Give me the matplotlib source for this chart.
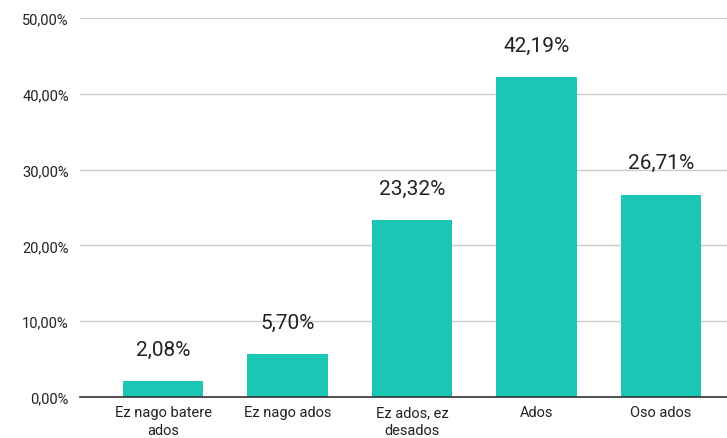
import matplotlib
matplotlib.use("Agg")
import matplotlib.pyplot as plt
from matplotlib.ticker import FuncFormatter
from matplotlib.patches import FancyBboxPatch

categories = ["Ez nago batere\nados", "Ez nago ados", "Ez ados, ez\ndesados", "Ados", "Oso ados"]
values = [2.08, 5.70, 23.32, 42.19, 26.71]
yticks = [0, 10, 20, 30, 40, 50]

plt.rcParams['font.family'] = ['Roboto', 'DejaVu Sans']

fig = plt.figure(figsize=(7.27, 4.39), dpi=100)
ax = fig.add_axes([0.110, 0.0934, 0.890, 0.8633])

color = '#1cc6b4'
x = list(range(len(categories)))
bars = ax.bar(x, values, width=0.65, color=color, zorder=3)

for xi, v in zip(x, values):
    ax.annotate(f"{v:.2f}%".replace('.', ','), (xi, v), xytext=(0, 16),
                textcoords='offset points', ha='center', va='bottom',
                fontsize=15, color='#222222')

ax.set_ylim(0, 50)
ax.set_xlim(-0.667, 4.53)
ax.set_yticks(yticks)
ax.yaxis.set_major_formatter(FuncFormatter(lambda v, p: f"{v:.2f}%".replace('.', ',')))
ax.set_xticks(x)
ax.set_xticklabels(categories, fontsize=10.5, color='#222222', linespacing=1.3)
ax.tick_params(axis='y', length=0, pad=8, labelsize=10.5, labelcolor='#222222')
ax.tick_params(axis='x', length=0, pad=6)
ax.grid(axis='y', color='#cccccc', linewidth=1, zorder=0)
for s in ['top', 'right', 'left']:
    ax.spines[s].set_visible(False)
ax.spines['bottom'].set_color('#333333')
ax.spines['bottom'].set_linewidth(1.2)
ax.spines['bottom'].set_zorder(4)

fig.savefig('out.png', dpi=100)
